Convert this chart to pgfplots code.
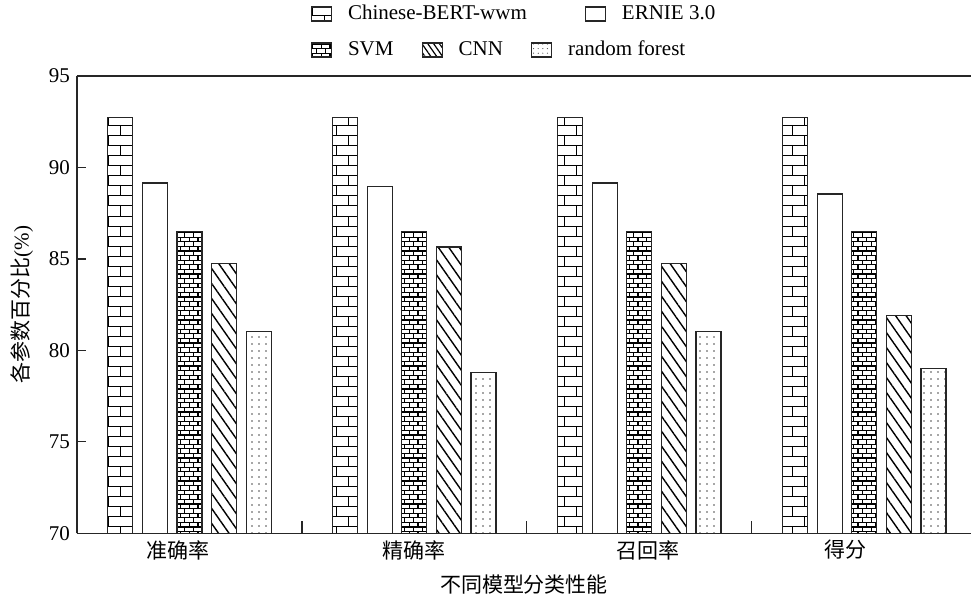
\documentclass[border=0pt]{standalone}
\usepackage{fontspec}
\setmainfont{Liberation Serif}
\newfontfamily\cjk{Noto Sans CJK SC}
\usepackage{pgfplots}
\pgfplotsset{compat=1.18}
\usepackage{pgfplotstable}
\usetikzlibrary{patterns,patterns.meta}

\pgfdeclarepatternformonly{bigbricks}{\pgfqpoint{-0.5pt}{-0.5pt}}{\pgfqpoint{12.5pt}{10.5pt}}{\pgfqpoint{12pt}{10pt}}{%
  \pgfsetlinewidth{0.5pt}%
  \pgfpathmoveto{\pgfqpoint{-0.5pt}{0pt}}\pgfpathlineto{\pgfqpoint{12.5pt}{0pt}}%
  \pgfpathmoveto{\pgfqpoint{-0.5pt}{5pt}}\pgfpathlineto{\pgfqpoint{12.5pt}{5pt}}%
  \pgfpathmoveto{\pgfqpoint{0pt}{0pt}}\pgfpathlineto{\pgfqpoint{0pt}{5pt}}%
  \pgfpathmoveto{\pgfqpoint{6pt}{5pt}}\pgfpathlineto{\pgfqpoint{6pt}{10pt}}%
  \pgfusepath{stroke}}

\pgfdeclarepatternformonly{smallbricks}{\pgfqpoint{-0.5pt}{-0.5pt}}{\pgfqpoint{4.9pt}{5.1pt}}{\pgfqpoint{4.4pt}{4.6pt}}{%
  \pgfsetlinewidth{0.6pt}%
  \pgfpathmoveto{\pgfqpoint{-0.5pt}{0pt}}\pgfpathlineto{\pgfqpoint{4.9pt}{0pt}}%
  \pgfpathmoveto{\pgfqpoint{-0.5pt}{2.3pt}}\pgfpathlineto{\pgfqpoint{4.9pt}{2.3pt}}%
  \pgfpathmoveto{\pgfqpoint{0pt}{0pt}}\pgfpathlineto{\pgfqpoint{0pt}{2.3pt}}%
  \pgfpathmoveto{\pgfqpoint{2.2pt}{2.3pt}}\pgfpathlineto{\pgfqpoint{2.2pt}{4.6pt}}%
  \pgfusepath{stroke}}

\pgfplotstableread{
x BERT ERNIE SVM CNN RF
0 92.75 89.15 86.5 84.75 81.05
1 92.75 88.95 86.5 85.65 78.80
2 92.75 89.15 86.5 84.75 81.05
3 92.75 88.55 86.5 81.90 79.00
}\datatable

\pgfplotsset{
  barstyle/.style={draw=black!85, line width=0.6pt},
  legbox/.style={legend image code/.code={\draw[##1, line width=0.55pt] (0pt,-3.5pt) rectangle (10pt,3.5pt);}},
  legaxis/.style={at={(0pt,0pt)}, anchor=south west, scale only axis,
    width=447pt, height=228.65pt, hide axis, xmin=0, xmax=1, ymin=0, ymax=1, legbox,
    legend style={draw=none, fill=none, inner sep=0pt, outer sep=0pt, anchor=west,
      font=\fontsize{10.5}{12.6}\selectfont,
      /tikz/every odd column/.append style={column sep=6pt}}},
}

\begin{document}
\begin{tikzpicture}
\path[use as bounding box] (-38.5pt,-31.35pt) rectangle (447pt,266.65pt);
\begin{axis}[
  at={(0pt,0pt)}, anchor=south west,
  scale only axis, width=447pt, height=228.65pt,
  font=\fontsize{10.5}{12.6}\selectfont,
  ybar=4.8pt, bar width=12.5pt,
  xmin=-0.5, xmax=3.4747, ymin=70, ymax=95,
  axis x line*=box, axis y line*=left,
  axis line style={-, line width=0.7pt, black!85},
  x axis line style={-}, y axis line style={-},
  tick align=inside,
  xtick={-0.052,1.0,2.04,2.916},
  xticklabels={{\cjk 准确率},{\cjk 精确率},{\cjk 召回率},{\cjk 得分}},
  minor xtick={0.5,1.5,2.5},
  xtick pos=left, ytick pos=left,
  ytick={70,75,80,85,90,95},
  major tick length=4.5pt, minor tick length=6pt,
  every major x tick/.append style={draw=none},
  tick style={black!85, line width=0.6pt},
  /pgf/number format/assume math mode=true,
  xlabel={\cjk 不同模型分类性能},
  ylabel={{\cjk 各参数百分比}(\%)},
  xlabel style={at={(axis description cs:0.5,-0.1115)}, anchor=center},
  ylabel style={at={(axis description cs:-0.0615,0.5)}, anchor=center},
]
\addplot[barstyle, pattern=bigbricks] table[x=x,y=BERT]{\datatable};
\addplot[barstyle, fill=white] table[x=x,y=ERNIE]{\datatable};
\addplot[barstyle, pattern=smallbricks] table[x=x,y=SVM]{\datatable};
\addplot[barstyle, pattern={Lines[angle=-55,distance=4.3pt,line width=0.7pt]}] table[x=x,y=CNN]{\datatable};
\addplot[barstyle, pattern={Dots[distance=3.5pt,radius=0.38pt]}, pattern color=black!70] table[x=x,y=RF]{\datatable};
\end{axis}

\begin{axis}[legaxis, legend columns=2,
  legend style={at={(0.2617,1.1356)}, /tikz/every even column/.append style={column sep=27pt}}]
\addlegendimage{draw=black!85, pattern=bigbricks}
\addlegendentry{Chinese-BERT-wwm}
\addlegendimage{draw=black!85, fill=white}
\addlegendentry{ERNIE 3.0}
\end{axis}

\begin{axis}[legaxis, legend columns=3,
  legend style={at={(0.2617,1.0569)}, /tikz/every even column/.append style={column sep=12pt}}]
\addlegendimage{draw=black!85, pattern=smallbricks}
\addlegendentry{SVM}
\addlegendimage{draw=black!85, pattern={Lines[angle=-55,distance=2.4pt,line width=0.6pt]}}
\addlegendentry{CNN}
\addlegendimage{draw=black!85, pattern={Dots[distance=2.3pt,radius=0.3pt]}, pattern color=black!70}
\addlegendentry{random forest}
\end{axis}
\end{tikzpicture}
\end{document}
